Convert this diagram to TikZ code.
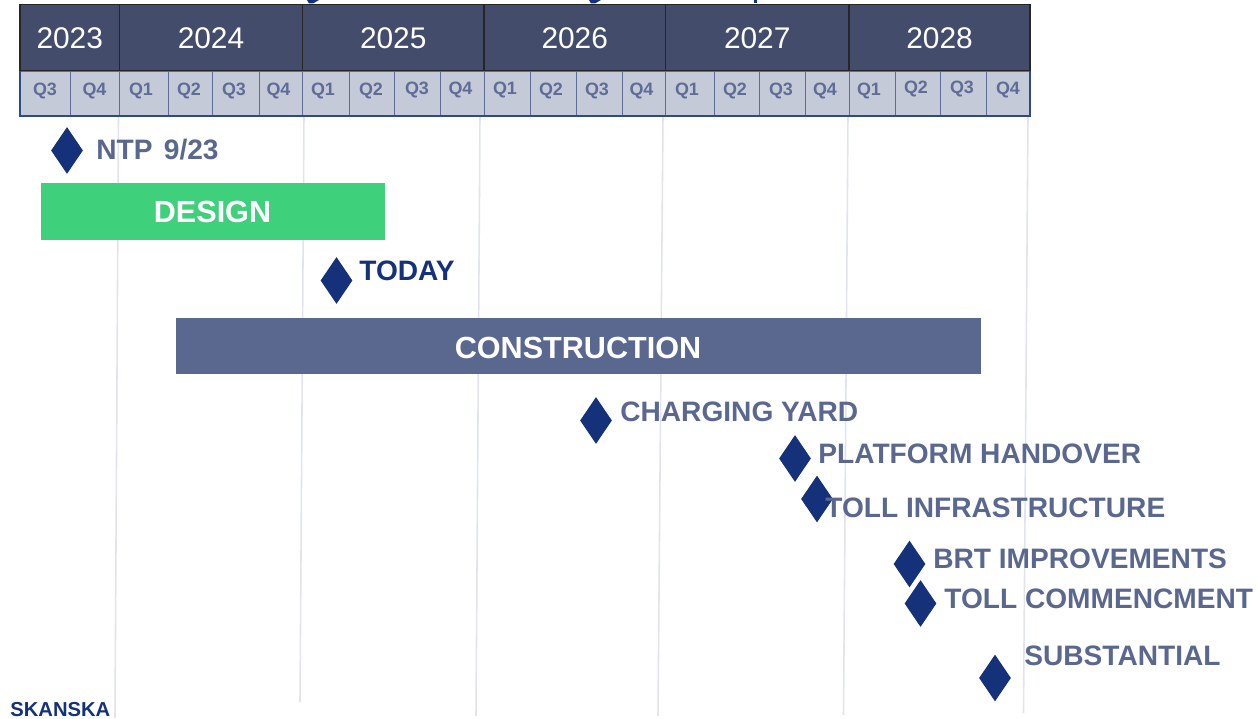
\documentclass[tikz,border=0pt]{standalone}
\usepackage{fontspec}
\setmainfont{Liberation Sans}
\usetikzlibrary{shapes.geometric}
\definecolor{headblue}{HTML}{434D6B}
\definecolor{quartergrey}{HTML}{C5CAD9}
\definecolor{quarterline}{HTML}{5F6C96}
\definecolor{quarteredge}{HTML}{2F4A8A}
\definecolor{gridgrey}{HTML}{E1E4EE}
\definecolor{barblue}{HTML}{5A6890}
\definecolor{bargreen}{HTML}{3FD07C}
\definecolor{navy}{HTML}{14317A}
\tikzset{
  yearcell/.style={draw=black!85,fill=headblue,line width=.6pt},
  yeartext/.style={text=white,inner sep=0pt,font=\fontsize{17}{20}\selectfont},
  quartercell/.style={draw=quarterline,fill=quartergrey,line width=.55pt},
  quartertext/.style={text=quarterline,inner sep=0pt,yshift=-.5pt,font=\bfseries\fontsize{10.2}{12}\selectfont},
  gridline/.style={draw=gridgrey,line width=.9pt},
  barcell/.style={inner sep=0pt,text=white,yshift=-.4pt,font=\bfseries\fontsize{17.4}{20}\selectfont},
  marker/.style={diamond,fill=navy,inner sep=0pt,minimum width=.64cm,minimum height=.94cm},
  milestone/.style={anchor=west,inner sep=0pt,text=barblue,yshift=-.4pt,font=\bfseries\fontsize{16}{18}\selectfont}
}
\begin{document}
\begin{tikzpicture}[x=.02cm,y=-.02cm]
\useasboundingbox (0,0) rectangle (1258,719);
% year grid behind everything
\draw[gridline] (118.5,116) -- (115,718);
\draw[gridline] (304,116) -- (300,702);
\draw[gridline] (480,116) -- (476,716);
\draw[gridline] (663,116) -- (658,716);
\draw[gridline] (848,116) -- (843.5,715);
\draw[gridline] (1028,116) -- (1023.5,713);
% what is left of the cut title
\fill[navy] (307,0) -- (319,0) -- (313,3.5) -- (309,3.5) -- cycle;
\fill[navy] (589,0) -- (601,0) -- (595,3.5) -- (591,3.5) -- cycle;
\fill[navy] (753.5,0) rectangle (757,3.5);
% years
\filldraw[yearcell] (20,4.5) rectangle (119.5,71) node (y2023) [midway,yeartext] {2023};
\filldraw[yearcell] (119.5,4.5) rectangle (302.5,71) node (y2024) [midway,yeartext] {2024};
\filldraw[yearcell] (302.5,4.5) rectangle (484,71) node (y2025) [midway,yeartext] {2025};
\filldraw[yearcell] (484,4.5) rectangle (665.5,71) node (y2026) [midway,yeartext] {2026};
\filldraw[yearcell] (665.5,4.5) rectangle (849,71) node (y2027) [midway,yeartext] {2027};
\filldraw[yearcell] (849,4.5) rectangle (1030,71) node (y2028) [midway,yeartext] {2028};
% quarters
\filldraw[quartercell] (20,71) rectangle (70.5,116);
\node[quartertext] (q23c) at (45,90) {Q3};
\filldraw[quartercell] (70.5,71) rectangle (119.5,116);
\node[quartertext] (q23d) at (94.5,90) {Q4};
\filldraw[quartercell] (119.5,71) rectangle (168,116);
\node[quartertext] (q24a) at (141,90) {Q1};
\filldraw[quartercell] (168,71) rectangle (212.5,116);
\node[quartertext] (q24b) at (189,90) {Q2};
\filldraw[quartercell] (212.5,71) rectangle (259,116);
\node[quartertext] (q24c) at (234,90) {Q3};
\filldraw[quartercell] (259,71) rectangle (302.5,116);
\node[quartertext] (q24d) at (278.5,90) {Q4};
\filldraw[quartercell] (302.5,71) rectangle (349.5,116);
\node[quartertext] (q25a) at (323,90) {Q1};
\filldraw[quartercell] (349.5,71) rectangle (394,116);
\node[quartertext] (q25b) at (371,90) {Q2};
\filldraw[quartercell] (394,71) rectangle (440.5,116);
\node[quartertext] (q25c) at (417,89) {Q3};
\filldraw[quartercell] (440.5,71) rectangle (484,116);
\node[quartertext] (q25d) at (460.5,89) {Q4};
\filldraw[quartercell] (484,71) rectangle (530.5,116);
\node[quartertext] (q26a) at (505,89) {Q1};
\filldraw[quartercell] (530.5,71) rectangle (576,116);
\node[quartertext] (q26b) at (551,90) {Q2};
\filldraw[quartercell] (576,71) rectangle (622,116);
\node[quartertext] (q26c) at (597,90) {Q3};
\filldraw[quartercell] (622,71) rectangle (665,116);
\node[quartertext] (q26d) at (641.5,90) {Q4};
\filldraw[quartercell] (665,71) rectangle (714,116);
\node[quartertext] (q27a) at (687,90) {Q1};
\filldraw[quartercell] (714,71) rectangle (759,116);
\node[quartertext] (q27b) at (735,90) {Q2};
\filldraw[quartercell] (759,71) rectangle (805,116);
\node[quartertext] (q27c) at (781,90) {Q3};
\filldraw[quartercell] (805,71) rectangle (849,116);
\node[quartertext] (q27d) at (825,90) {Q4};
\filldraw[quartercell] (849,71) rectangle (895,116);
\node[quartertext] (q28a) at (869,90) {Q1};
\filldraw[quartercell] (895,71) rectangle (940,116);
\node[quartertext] (q28b) at (916,88) {Q2};
\filldraw[quartercell] (940,71) rectangle (986,116);
\node[quartertext] (q28c) at (962,88) {Q3};
\filldraw[quartercell] (986,71) rectangle (1030,116);
\node[quartertext] (q28d) at (1008,89) {Q4};
\draw[quarteredge,line width=.7pt] (20,71) -- (20,116) -- (1030,116) -- (1030,71);
% bars
\fill[bargreen] (41,183) rectangle (384.5,240.5);
\node[barcell] (design) at (212.5,211.5) {DESIGN};
\fill[barblue] (175.5,318) rectangle (981,374);
\node[barcell] (construction) at (578,347) {CONSTRUCTION};
% milestones
\node[marker] (ntp) at (67,150.5) {};
\node[milestone] (ntptext) at (96,149) {NTP\hspace{2pt} 9/23};
\node[marker] (today) at (336.5,280.5) {};
\node[milestone,text=navy] (todaytext) at (359,270) {TODAY};
\node[marker] (charging) at (596,420.5) {};
\node[milestone] (chargingtext) at (620,411) {CHARGING YARD};
\node[marker] (platform) at (795,458.5) {};
\node[milestone] (platformtext) at (818,453) {PLATFORM HANDOVER};
\node[marker] (toll) at (817,499) {};
\node[milestone] (tolltext) at (825,507) {TOLL INFRASTRUCTURE};
\node[marker] (brt) at (909.5,564) {};
\node[milestone] (brttext) at (933,558.5) {BRT IMPROVEMENTS};
\node[marker] (commence) at (920.5,603.5) {};
\node[milestone] (commencetext) at (944,598.5) {TOLL COMMENCMENT};
\node[marker] (substantial) at (995,678) {};
\node[milestone] (substantialtext) at (1024,655) {SUBSTANTIAL};
% logo
\node[anchor=west,inner sep=0pt,text=navy,font=\bfseries\fontsize{11.5}{13}\selectfont] (skanska) at (10,709.5) {SKANSKA};
\end{tikzpicture}
\end{document}
